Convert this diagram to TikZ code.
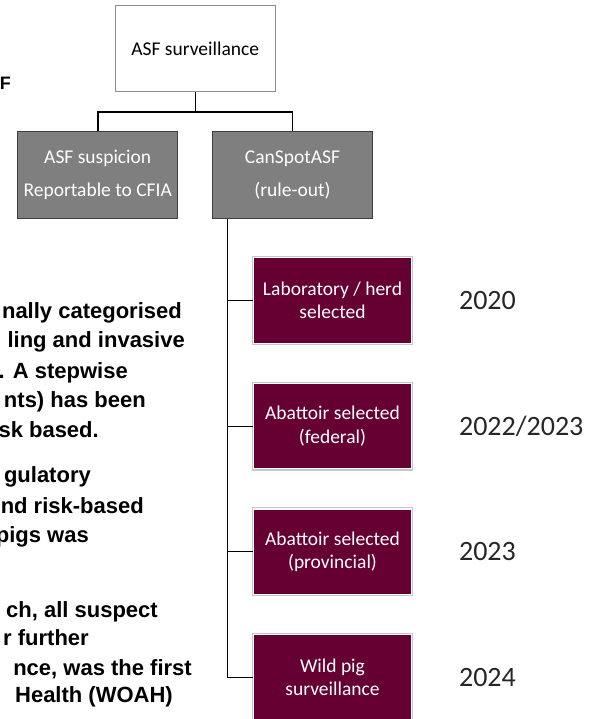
\documentclass[tikz,border=0pt]{standalone}
\usepackage{fontspec}
\setmainfont{Carlito}
\newfontfamily\notefont{Liberation Sans}
\usetikzlibrary{positioning}
\definecolor{wine}{HTML}{660033}
\definecolor{midgrey}{HTML}{7F7F7F}
\definecolor{darkgrey}{HTML}{3F3F3F}

\begin{document}
\begin{tikzpicture}[x=1pt, y=-1pt, font=\fontsize{19.5}{23.5}\selectfont]
  \tikzset{
    rootbox/.style={rectangle, draw=black!45, line width=1pt, fill=white, minimum width=160pt, minimum height=86pt, text centered},
    greybox/.style={rectangle, draw=darkgrey, line width=1pt, fill=midgrey, text=white, minimum width=160pt, minimum height=87pt, align=center, font=\fontsize{19.5}{33}\selectfont},
    winebox/.style={rectangle, fill=wine, draw=white, line width=1.2pt, preaction={draw=black!22, line width=3.4pt}, text=white, minimum width=157.5pt, minimum height=85.5pt, align=center},
    year/.style={inner sep=0pt, text=black!85, font=\fontsize{28}{30}\selectfont},
    note/.style={inner sep=0pt, anchor=base east, font=\notefont\bfseries\fontsize{22}{26}\selectfont},
    trunk/.style={draw=black, line width=1.5pt},
    link/.style={draw=black, line width=0.9pt}
  }

  \useasboundingbox (0,0) rectangle (591,719);
  \clip (0,0) rectangle (591,719);

  \node[note, font=\notefont\bfseries\fontsize{18}{22}\selectfont] (head) at (11,90) {F};

  \node[note] (a1) at (182,318) {nally categorised};
  \node[note] (a2) at (185,347) {ling and invasive};
  \node[note] (a3) at (128,378) {. A stepwise};
  \node[note] (a4) at (146,407) {nts) has been};
  \node[note] (a5) at (99,437) {sk based.};

  \node[note] (b1) at (91,482) {gulatory};
  \node[note] (b2) at (144,513) {nd risk-based};
  \node[note] (b3) at (89,542) {pigs was};

  \node[note] (c1) at (158,617) {ch, all suspect};
  \node[note] (c2) at (89,645) {r further};
  \node[note] (c3) at (192,675) {nce, was the first};
  \node[note] (c4) at (173,702) {Health (WOAH)};

  \node[rootbox] (surv) at (195.25,49) {ASF surveillance};
  \node[greybox] (susp) [below=38.5pt of surv, xshift=-97.5pt] {ASF suspicion\\Reportable to CFIA};
  \node[greybox] (cspot) [below=38.5pt of surv, xshift=97.25pt] {CanSpotASF\\(rule-out)};

  \node[winebox] (lab) [below=38pt of cspot, xshift=40pt] {Laboratory / herd\\selected};
  \node[winebox] (fed) [below=39pt of lab] {Abattoir selected\\(federal)};
  \node[winebox] (prov) [below=39pt of fed] {Abattoir selected\\(provincial)};
  \node[winebox] (wild) [below=39pt of prov] {Wild pig\\surveillance};

  \node[year] (y1) [right=47pt of lab] {2020};
  \node[year] (y2) [right=47pt of fed] {2022/2023};
  \node[year] (y3) [right=47pt of prov] {2023};
  \node[year] (y4) [right=47pt of wild] {2024};

  \draw[trunk] (surv.south) -- ++(0,19.5) coordinate (fork);
  \draw[trunk] (fork) -| (susp.north);
  \draw[trunk] (fork) -| (cspot.north);

  \coordinate (spine) at ([xshift=-65pt]cspot.south);
  \draw[trunk] (spine) |- (wild.west);
  \draw[link] (spine |- lab.west) -- (lab.west);
  \draw[link] (spine |- fed.west) -- (fed.west);
  \draw[link] (spine |- prov.west) -- (prov.west);

\end{tikzpicture}
\end{document}
